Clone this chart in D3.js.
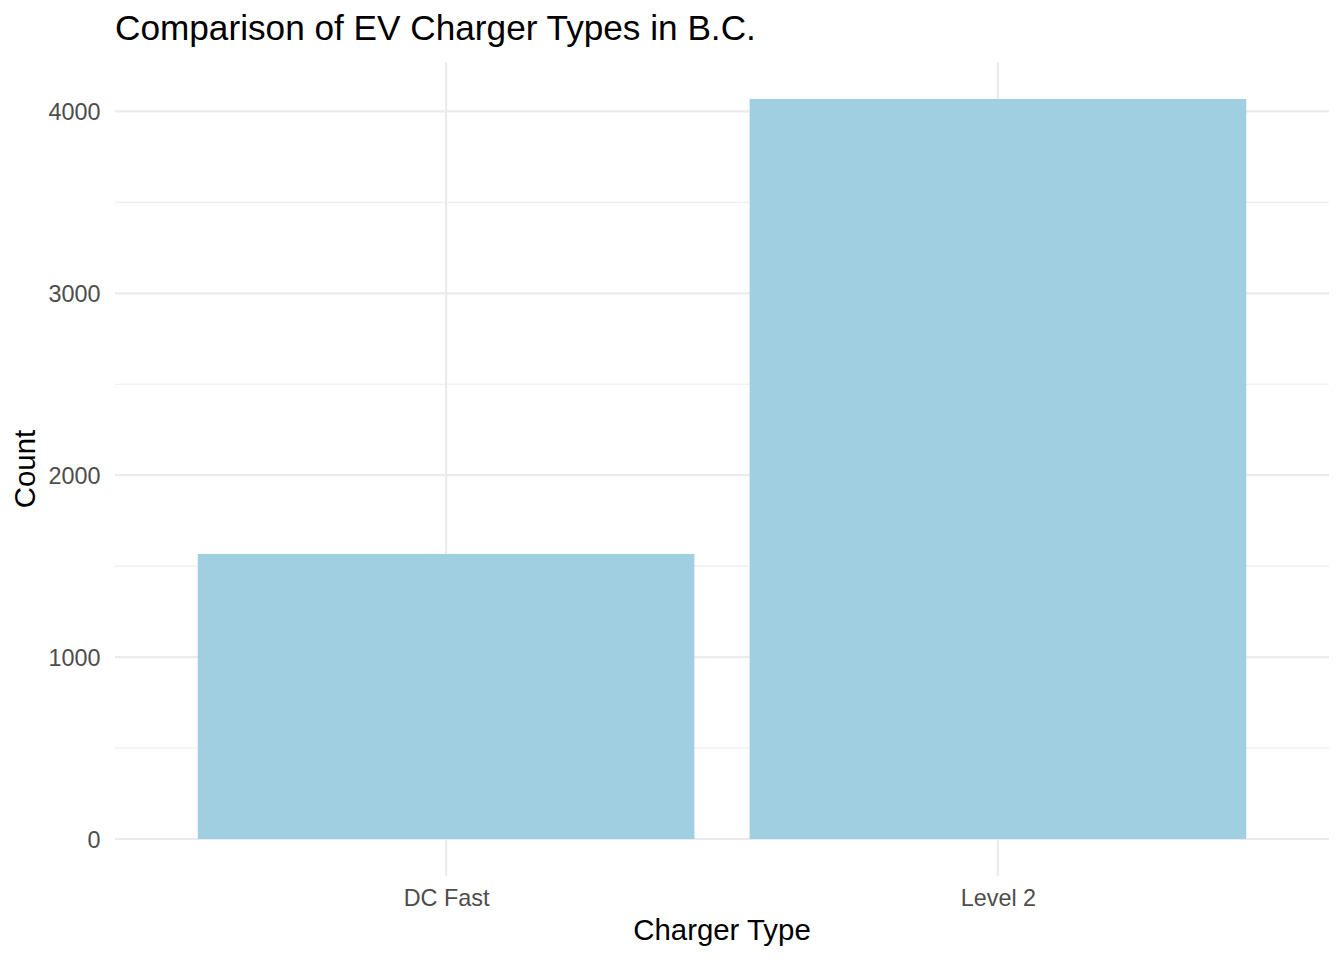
<!DOCTYPE html>
<html>
<head>
<meta charset="utf-8">
<script src="https://cdn.jsdelivr.net/npm/d3@7"></script>
<style>
  html, body { margin: 0; padding: 0; background: #fff; }
  svg { display: block; font-family: "Liberation Sans", Arial, Helvetica, sans-serif; }
</style>
</head>
<body>
<svg id="chart" width="1344" height="960"></svg>
<script>
// ---- data ----
const categories = ["DC Fast", "Level 2"];
const counts = [1567, 4068];
const yTicks = [0, 1000, 2000, 3000, 4000];
const yMinorTicks = [500, 1500, 2500, 3500];
const titleText = "Comparison of EV Charger Types in B.C.";
const xTitle = "Charger Type";
const yTitle = "Count";

// ---- layout ----
const W = 1344, H = 960;
const panel = { left: 115, right: 1329, top: 62, bottom: 876 };
const barColor = "#9fcfe0";
const gridColor = "#ebebeb";

const svg = d3.select("#chart");

const x = d3.scalePoint()
  .domain(categories)
  .range([panel.left, panel.right])
  .padding(0.6);
const step = x.step();
const barW = step * 0.9;

const maxV = d3.max(counts);
const y = d3.scaleLinear()
  .domain([-0.05 * maxV, maxV * 1.05])
  .range([panel.bottom, panel.top]);

const grid = svg.append("g");
// minor horizontal
grid.selectAll("line.minor").data(yMinorTicks).join("line")
  .attr("x1", panel.left).attr("x2", panel.right)
  .attr("y1", d => y(d)).attr("y2", d => y(d))
  .attr("stroke", gridColor).attr("stroke-width", 1.1);
// major horizontal
grid.selectAll("line.majorY").data(yTicks).join("line")
  .attr("x1", panel.left).attr("x2", panel.right)
  .attr("y1", d => y(d)).attr("y2", d => y(d))
  .attr("stroke", gridColor).attr("stroke-width", 2.2);
// major vertical
grid.selectAll("line.majorX").data(categories).join("line")
  .attr("x1", d => x(d)).attr("x2", d => x(d))
  .attr("y1", panel.top).attr("y2", panel.bottom)
  .attr("stroke", gridColor).attr("stroke-width", 2.2);

// bars
svg.append("g").selectAll("rect").data(categories).join("rect")
  .attr("x", d => x(d) - barW / 2)
  .attr("width", barW)
  .attr("y", (d, i) => y(counts[i]))
  .attr("height", (d, i) => y(0) - y(counts[i]))
  .attr("fill", barColor);

// y axis
const yAxis = svg.append("g")
  .attr("transform", `translate(${panel.left},0)`)
  .call(d3.axisLeft(y).tickValues(yTicks).tickSize(0).tickPadding(14.5).tickFormat(d3.format("d")));
yAxis.select(".domain").remove();
yAxis.selectAll("text")
  .attr("fill", "#4d4d4d")
  .attr("font-size", 23.4)
  .attr("dy", "0.36em")
  .style("font-family", "'Liberation Sans', Arial, sans-serif");

// x axis
const xAxis = svg.append("g")
  .attr("transform", `translate(0,${panel.bottom})`)
  .call(d3.axisBottom(x).tickSize(0).tickPadding(13.5));
xAxis.select(".domain").remove();
xAxis.selectAll("text")
  .attr("fill", "#4d4d4d")
  .attr("font-size", 23.4)
  .style("font-family", "'Liberation Sans', Arial, sans-serif");

// titles
svg.append("text")
  .attr("x", panel.left)
  .attr("y", 39.5)
  .attr("font-size", 35.2)
  .attr("fill", "#000")
  .text(titleText);

svg.append("text")
  .attr("x", (panel.left + panel.right) / 2)
  .attr("y", 939.5)
  .attr("text-anchor", "middle")
  .attr("font-size", 29.4)
  .attr("fill", "#000")
  .text(xTitle);

svg.append("text")
  .attr("transform", `translate(34.5,${(panel.top + panel.bottom) / 2}) rotate(-90)`)
  .attr("text-anchor", "middle")
  .attr("font-size", 29.4)
  .attr("fill", "#000")
  .text(yTitle);
</script>
</body>
</html>
